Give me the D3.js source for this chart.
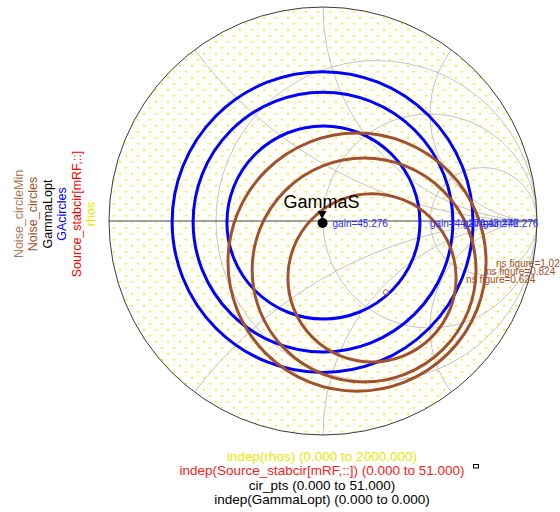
<!DOCTYPE html>
<html>
<head>
<meta charset="utf-8">
<script src="https://cdn.jsdelivr.net/npm/d3@7"></script>
<style>
  html, body { margin: 0; padding: 0; background: #ffffff; }
  svg { display: block; font-family: "Liberation Sans", Arial, sans-serif; }
</style>
</head>
<body>
<svg id="chart" width="560" height="512"></svg>
<script>
// Smith chart grid: normalized resistance circles and reactance arcs
const resistanceCircles = [1 / 3, 1, 3];
const reactanceArcs = [0.5, 1, 2, -0.5, -1, -2];

// Available-gain circles (source reflection-coefficient plane)
const gainLevels = [44.276, 43.276, 42.276];
const gainCenterRe = [0.002, 0.000, -0.002];
const gainCenterIm = [-0.007, -0.005, -0.005];
const gainRadius = [0.451, 0.607, 0.703];

// Noise-figure circles
const noiseLevels = [0.624, 0.824, 1.024];
const noiseCenterRe = [0.229, 0.192, 0.159];
const noiseCenterIm = [-0.266, -0.229, -0.192];
const noiseRadius = [0.393, 0.523, 0.603];

// Minimum-noise reflection coefficient
const noiseMinRe = [0.294];
const noiseMinIm = [-0.333];

// Optimum source reflection (marker GammaS)
const gammaLoptRe = [-0.002];
const gammaLoptIm = [-0.009];
const gammaLoptGain = 45.276;
const markerName = "GammaS";

// Trace names listed down the left side
const sideLegendNames = ["Noise_circleMin", "Noise_circles", "GammaLopt", "GAcircles", "Source_stabcir[mRF,::]", "rhos"];
const sideLegendColors = ["#b27c58", "#a0522d", "#000000", "#0000ff", "#ff0000", "#e8e800"];

// Sweep ranges listed below the chart
const sweepLabels = [
  "indep(rhos) (0.000 to 2000.000)",
  "indep(Source_stabcir[mRF,::]) (0.000 to 51.000)",
  "cir_pts (0.000 to 51.000)",
  "indep(GammaLopt) (0.000 to 0.000)"
];
const sweepColors = ["#e8e800", "#ff2020", "#000000", "#000000"];

const svg = d3.select("#chart");
const cx = 323, cy = 221, R = 214;

const x = d3.scaleLinear().domain([-1, 1]).range([cx - R, cx + R]);
const y = d3.scaleLinear().domain([-1, 1]).range([cy + R, cy - R]);
const rs = v => x(v) - x(0);

const defs = svg.append("defs");
defs.append("clipPath").attr("id", "unitDisc")
  .append("circle").attr("cx", x(0)).attr("cy", y(0)).attr("r", rs(1));

// fine dot texture for the rhos sample grid
const pat = defs.append("pattern").attr("id", "rhoDots")
  .attr("patternUnits", "userSpaceOnUse")
  .attr("width", 12).attr("height", 12)
  .attr("x", x(0)).attr("y", y(0));
pat.append("rect").attr("x", 0).attr("y", 0).attr("width", 2).attr("height", 1.5).attr("fill", "#f2f200");
pat.append("rect").attr("x", 6).attr("y", 6).attr("width", 2).attr("height", 1.5).attr("fill", "#f2f200");

// rhos
svg.append("circle")
  .attr("cx", x(0)).attr("cy", y(0)).attr("r", rs(1))
  .attr("fill", "url(#rhoDots)");

// grid
const grid = svg.append("g").attr("clip-path", "url(#unitDisc)")
  .attr("fill", "none").attr("stroke", "#c4c4c4").attr("stroke-width", 1);
grid.selectAll("circle.res").data(resistanceCircles).join("circle")
  .attr("class", "res")
  .attr("cx", r => x(r / (1 + r))).attr("cy", y(0))
  .attr("r", r => rs(1 / (1 + r)));
grid.selectAll("circle.reac").data(reactanceArcs).join("circle")
  .attr("class", "reac")
  .attr("cx", x(1)).attr("cy", v => y(1 / v))
  .attr("r", v => rs(1 / Math.abs(v)));

// real axis and outer boundary
svg.append("line")
  .attr("x1", x(-1)).attr("x2", x(1)).attr("y1", y(0)).attr("y2", y(0))
  .attr("stroke", "#444").attr("stroke-width", 1);
svg.append("circle")
  .attr("cx", x(0)).attr("cy", y(0)).attr("r", rs(1))
  .attr("fill", "none").attr("stroke", "#3a3a3a").attr("stroke-width", 1);

// gain circles
const gainG = svg.append("g");
gainG.selectAll("circle").data(gainLevels).join("circle")
  .attr("cx", (d, i) => x(gainCenterRe[i]))
  .attr("cy", (d, i) => y(gainCenterIm[i]))
  .attr("r", (d, i) => rs(gainRadius[i]))
  .attr("fill", "none").attr("stroke", "#0000ff").attr("stroke-width", 3);

// noise circles
const noiseG = svg.append("g");
noiseG.selectAll("circle").data(noiseLevels).join("circle")
  .attr("cx", (d, i) => x(noiseCenterRe[i]))
  .attr("cy", (d, i) => y(noiseCenterIm[i]))
  .attr("r", (d, i) => rs(noiseRadius[i]))
  .attr("fill", "none").attr("stroke", "#a0522d").attr("stroke-width", 3);

// minimum-noise point
svg.selectAll("circle.nmin").data(noiseMinRe).join("circle")
  .attr("class", "nmin")
  .attr("cx", d => x(d)).attr("cy", (d, i) => y(noiseMinIm[i]))
  .attr("r", 2.5).attr("fill", "none").attr("stroke", "#b06a40").attr("stroke-width", 1);

// gain labels at the rightmost point of each circle
svg.append("g").selectAll("text").data(gainLevels).join("text")
  .attr("x", (d, i) => x(gainCenterRe[i] + gainRadius[i]) + 10)
  .attr("y", (d, i) => y(gainCenterIm[i]) + 5)
  .attr("font-size", 10).attr("fill", "#2a2aff")
  .text(d => "gain=" + d.toFixed(3));

// noise labels
svg.append("g").selectAll("text").data(noiseLevels).join("text")
  .attr("x", (d, i) => x(noiseCenterRe[i] + noiseRadius[i]) + 10)
  .attr("y", (d, i) => y(noiseCenterIm[i]) + 5)
  .attr("font-size", 10).attr("fill", "#a0522d")
  .text(d => "ns figure=" + d.toFixed(3));

// GammaLopt point with marker
const gx = x(gammaLoptRe[0]), gy = y(gammaLoptIm[0]);
svg.append("text")
  .attr("x", gx + 10).attr("y", gy + 4)
  .attr("font-size", 10).attr("fill", "#2a2aff")
  .text("gain=" + gammaLoptGain.toFixed(3));
svg.append("circle").attr("cx", gx).attr("cy", gy).attr("r", 5).attr("fill", "#000");
svg.append("path")
  .attr("d", `M${gx - 5},${gy - 12} L${gx + 4},${gy - 12} L${gx - 0.5},${gy - 4} Z`)
  .attr("fill", "#000");
svg.append("text")
  .attr("x", gx - 1).attr("y", gy - 15)
  .attr("text-anchor", "middle").attr("font-size", 18).attr("fill", "#000")
  .text(markerName);

// side legend (rotated trace names)
svg.append("g").selectAll("text").data(sideLegendNames).join("text")
  .attr("transform", (d, i) => `translate(${22.5 + i * 14.5},214) rotate(-90)`)
  .attr("text-anchor", "middle").attr("font-size", 12.5)
  .attr("fill", (d, i) => sideLegendColors[i])
  .text(d => d);

// sweep ranges below the chart
svg.append("g").selectAll("text").data(sweepLabels).join("text")
  .attr("x", 322).attr("y", (d, i) => 460.5 + i * 14.5)
  .attr("text-anchor", "middle").attr("font-size", 13.5)
  .attr("fill", (d, i) => sweepColors[i])
  .text(d => d);
svg.append("rect").attr("x", 473.5).attr("y", 464.5).attr("width", 5).attr("height", 3.5)
  .attr("fill", "none").attr("stroke", "#000").attr("stroke-width", 1);
</script>
</body>
</html>
